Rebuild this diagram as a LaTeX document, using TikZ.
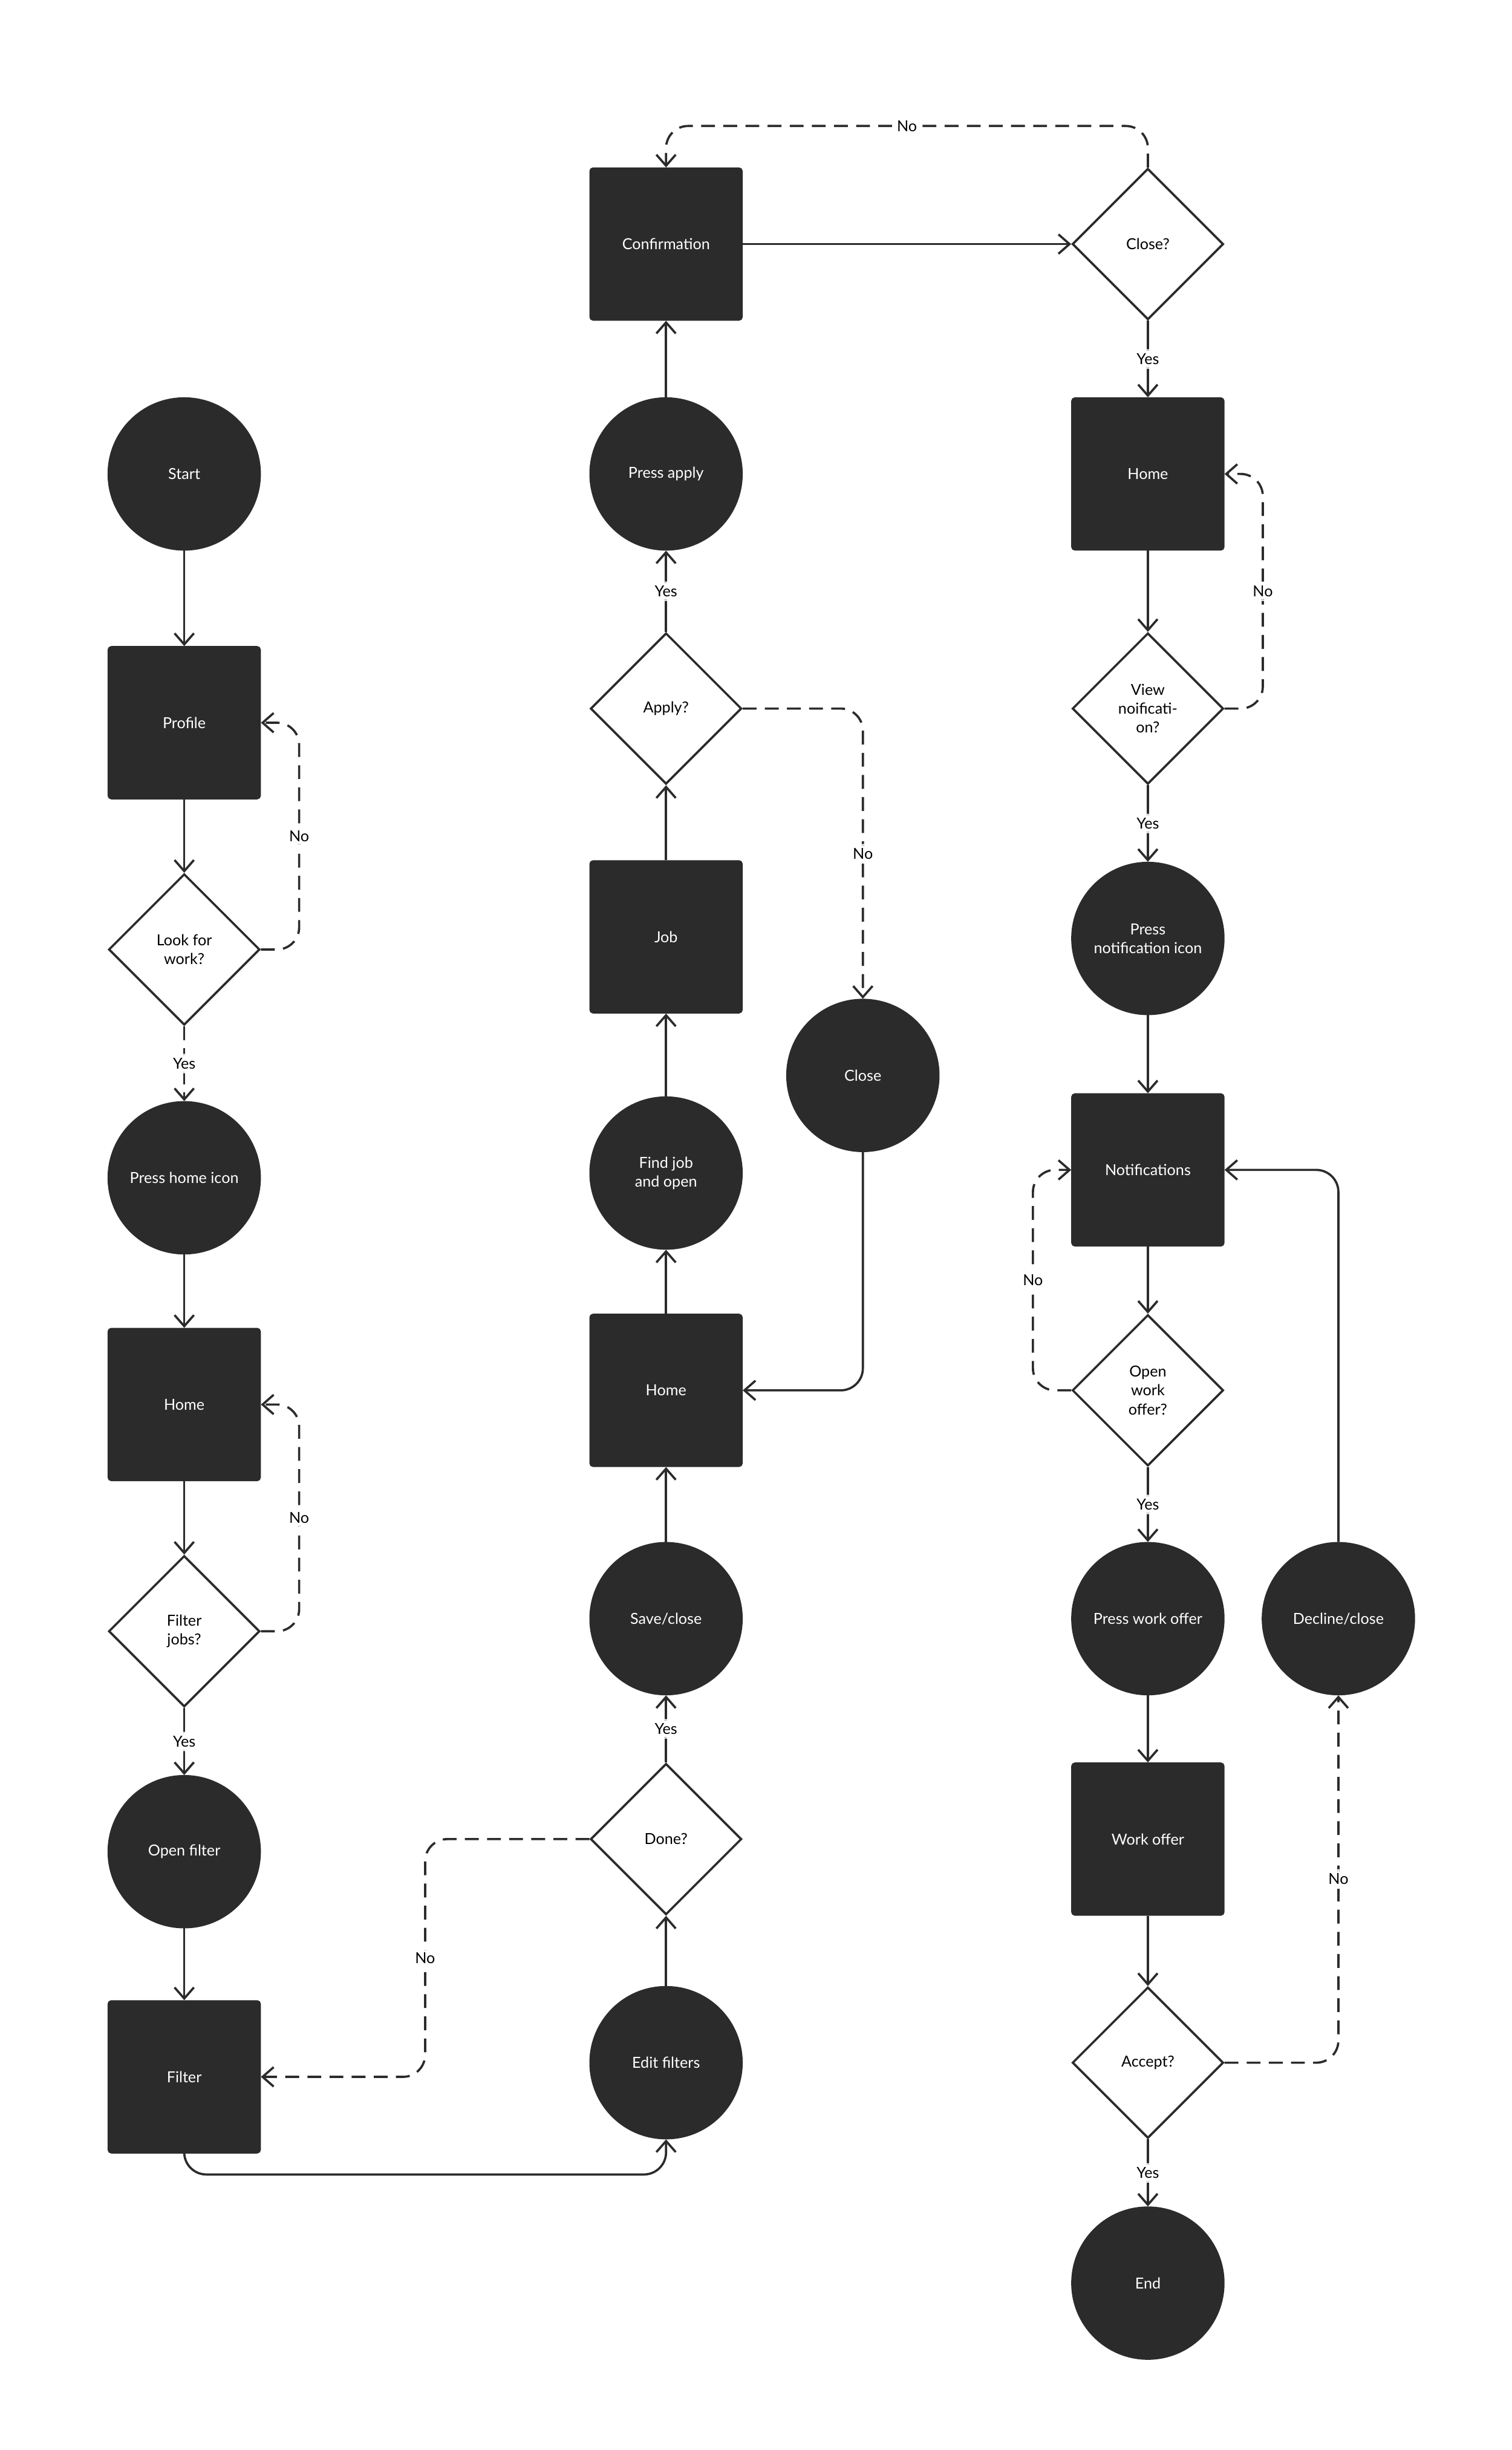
\documentclass[tikz,border=0pt]{standalone}
\usepackage{fontspec}
\setmainfont{Lato}
\usetikzlibrary{shapes.geometric,arrows.meta}
\definecolor{ink}{HTML}{2B2B2B}
\tikzset{>={Straight Barb[length=4pt,width=7pt]}}

\begin{document}
\begin{tikzpicture}[x=0.02cm,y=-0.02cm,line width=0.8pt,draw=ink,
	font=\fontsize{5.5}{6.8}\selectfont,
	box/.style={draw=ink,fill=ink,text=white,minimum size=1.92cm,inner sep=0pt,rounded corners=1pt,align=center},
	disc/.style={circle,draw=ink,fill=ink,text=white,minimum size=1.92cm,inner sep=0pt,align=center},
	ask/.style={diamond,draw=ink,fill=white,minimum size=1.92cm,inner sep=0pt,align=center},
	lbl/.style={fill=white,inner sep=1.5pt},
	flow/.style={->,rounded corners=8pt},
	alt/.style={->,dashed,dash pattern=on 5pt off 3pt,rounded corners=8pt}]
	\useasboundingbox (0,0) rectangle (960,1556);

	% first column
	\node[disc](start) at (117,301){Start};
	\node[box](profile) at (117,459){Profile};
	\node[ask](look) at (117,603){Look for\\work?};
	\node[disc](homeicon) at (117,748){Press home icon};
	\node[box](home-a) at (117,892){Home};
	\node[ask](filterq) at (117,1036){Filter\\jobs?};
	\node[disc](openfilter) at (117,1176){Open filter};
	\node[box](filter) at (117,1319){Filter};

	% second column
	\node[box](confirm) at (423,155){Confirmation};
	\node[disc](apply) at (423,301){Press apply};
	\node[ask](applyq) at (423,450){Apply?};
	\node[box](job) at (423,595){Job};
	\node[disc](findjob) at (423,745){Find job\\and open};
	\node[box](home-b) at (423,883){Home};
	\node[disc](save) at (423,1028){Save/close};
	\node[ask](done) at (423,1168){Done?};
	\node[disc](edit) at (423,1310){Edit filters};
	\node[disc](close) at (548,683){Close};

	% third column
	\node[ask](closeq) at (729,155){Close?};
	\node[box](home-c) at (729,301){Home};
	\node[ask](viewq) at (729,450){View\\noificati-\\on?};
	\node[disc](notifyicon) at (729,596){Press\\notification icon};
	\node[box](notify) at (729,743){Notifications};
	\node[ask](offerq) at (729,883){Open\\work\\offer?};
	\node[disc](pressoffer) at (729,1028){Press work offer};
	\node[box](offer) at (729,1168){Work offer};
	\node[ask](accept) at (729,1310){Accept?};
	\node[disc](end) at (729,1450){End};
	\node[disc](decline) at (850,1028){Decline/close};

	\draw[flow](start) -- (profile);
	\draw[flow](profile) -- (look);
	\draw[alt](look.east) -| node[lbl,pos=.75]{No} (190,459) -- (profile.east);
	\draw[alt](look) -- node[lbl]{Yes} (homeicon);
	\draw[flow](homeicon) -- (home-a);
	\draw[flow](home-a) -- (filterq);
	\draw[alt](filterq.east) -| node[lbl,pos=.75]{No} (190,892) -- (home-a.east);
	\draw[flow](filterq) -- node[lbl]{Yes} (openfilter);
	\draw[flow](openfilter) -- (filter);
	\draw[flow](filter.south) |- (423,1381) -- (edit.south);
	\draw[flow](edit) -- (done);
	\draw[alt](done.west) -| node[lbl,pos=.75]{No} (270,1319) -- (filter.east);
	\draw[flow](done) -- node[lbl]{Yes} (save);
	\draw[flow](save) -- (home-b);
	\draw[flow](home-b) -- (findjob);
	\draw[flow](findjob) -- (job);
	\draw[flow](job) -- (applyq);
	\draw[flow](applyq) -- node[lbl]{Yes} (apply);
	\draw[flow](apply) -- (confirm);
	\draw[alt](applyq.east) -| node[lbl,pos=.75]{No} (close.north);
	\draw[flow](close.south) |- (home-b.east);
	\draw[flow](confirm) -- (closeq);
	\draw[alt](closeq.north) |- node[lbl,pos=.75]{No} (423,80) -- (confirm.north);
	\draw[flow](closeq) -- node[lbl]{Yes} (home-c);
	\draw[flow](home-c) -- (viewq);
	\draw[alt](viewq.east) -| node[lbl,pos=.75]{No} (802,301) -- (home-c.east);
	\draw[flow](viewq) -- node[lbl]{Yes} (notifyicon);
	\draw[flow](notifyicon) -- (notify);
	\draw[flow](notify) -- (offerq);
	\draw[alt](offerq.west) -| node[lbl,pos=.75]{No} (656,743) -- (notify.west);
	\draw[flow](offerq) -- node[lbl]{Yes} (pressoffer);
	\draw[flow](pressoffer) -- (offer);
	\draw[flow](offer) -- (accept);
	\draw[alt](accept.east) -| node[lbl,pos=.75]{No} (decline.south);
	\draw[flow](decline.north) |- (notify.east);
	\draw[flow](accept) -- node[lbl]{Yes} (end);

\end{tikzpicture}
\end{document}
